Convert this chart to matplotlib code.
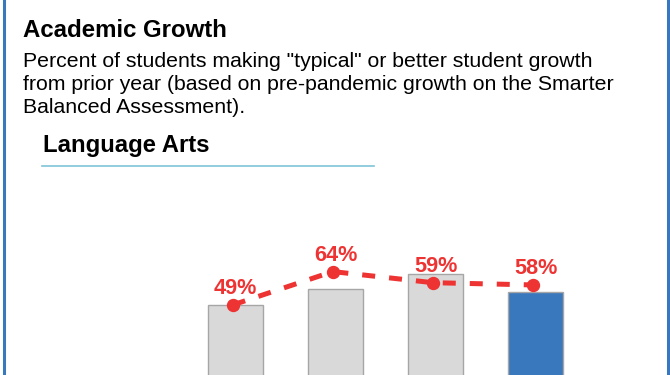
import matplotlib
matplotlib.use("Agg")
import matplotlib.pyplot as plt
from matplotlib.lines import Line2D

plt.rcParams['font.family'] = ['Liberation Sans', 'DejaVu Sans']

# Data
categories = ["Year 1", "Year 2", "Year 3", "Year 4"]
bar_values = [49, 56, 63, 55]
line_values = [49, 64, 59, 58]
line_labels = ["49%", "64%", "59%", "58%"]

W, H = 670, 375
fig = plt.figure(figsize=(W / 100, H / 100), dpi=100)

def fx(px):
    return px / W

def fy(py):
    return 1 - py / H

# Border lines (left/right)
fig.add_artist(Line2D([fx(3.5), fx(3.5)], [0, 1], color="#3a78bd", lw=2.2))
fig.add_artist(Line2D([fx(668), fx(668)], [0, 1], color="#3a78bd", lw=2.2))

# Texts
fig.text(fx(23), fy(37), "Academic Growth", fontsize=17.3, fontweight="bold",
         color="#000000", va="baseline", ha="left")
sub_lines = ['Percent of students making "typical" or better student growth',
             'from prior year (based on pre-pandemic growth on the Smarter',
             'Balanced Assessment).']
for i, s in enumerate(sub_lines):
    fig.text(fx(23), fy(67 + 23 * i), s, fontsize=15.3, color="#000000",
             va="baseline", ha="left")
fig.text(fx(43), fy(152), "Language Arts", fontsize=17.2, fontweight="bold",
         color="#000000", va="baseline", ha="left")
fig.add_artist(Line2D([fx(42), fx(374)], [fy(165.7), fy(165.7)],
                      color="#7fc4d8", lw=1.2))

# Chart axes
ax = fig.add_axes([fx(185.8), -38.8 / H, 400 / W, 200 / H])
x = list(range(len(categories)))
x_line = [xi - 0.03 for xi in x]
colors = ["#d9d9d9", "#d9d9d9", "#d9d9d9", "#3a78bd"]
ax.bar(x, bar_values, width=0.55, color=colors, edgecolor="#a6a6a6", linewidth=1.0, zorder=1)
ax.plot(x_line, line_values, color="#ee3333", lw=3.6, linestyle=(0, (2.6, 2.8)),
        marker="o", markersize=8.6, zorder=3, solid_capstyle="butt")
for xi, v, lab in zip(x_line, line_values, line_labels):
    ax.annotate(lab, (xi, v), xytext=(2, 7.5), textcoords="offset points",
                ha="center", va="baseline", fontsize=15.6, fontweight="bold",
                color="#ee3333", zorder=4)
ax.set_xlim(-0.5, 3.5)
ax.set_ylim(0, 90)
ax.axis("off")

fig.savefig("out.png", dpi=100)
